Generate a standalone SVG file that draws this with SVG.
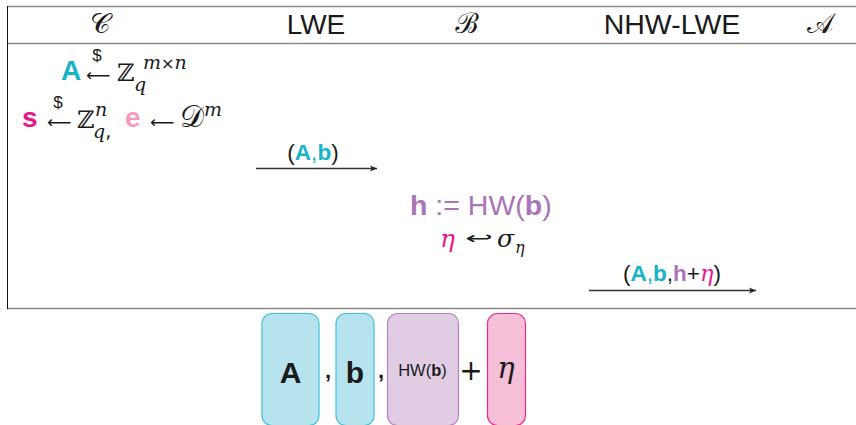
<svg xmlns="http://www.w3.org/2000/svg" width="856" height="425" viewBox="0 0 856 425">
  <defs>
    <marker id="arrowhead" viewBox="0 0 10 10" refX="9" refY="5" markerWidth="8" markerHeight="8" markerUnits="userSpaceOnUse" orient="auto">
      <path d="M0,1 L9,5 L0,9 L2.5,5 Z" fill="#222"/>
    </marker>
  </defs>
  <style>
    .sans { font-family: "Liberation Sans", Arial, sans-serif; }
    .math { font-family: "DejaVu Serif", "Liberation Serif", serif; font-style: italic; }
    .up { font-family: "DejaVu Sans", "Liberation Sans", sans-serif; font-style: normal; }
    .script { font-family: "DejaVu Serif", "Noto Sans", serif; }
    .rule { stroke: #888; stroke-width: 1.6; fill: none; }
    .cyan { fill: #17b3c9; }
    .mag { fill: #e6198a; }
    .pink { fill: #f49ac1; }
    .purp { fill: #a975b6; }
    .ink { fill: #1a1a1a; }
    .msg { stroke: #333; stroke-width: 1.3; fill: none; marker-end: url(#arrowhead); }
    .box-cyan { fill: #b7e3ef; stroke: #3cc3d6; stroke-width: 1.2; }
    .box-purp { fill: #e0cde4; stroke: #b783be; stroke-width: 1.2; }
    .box-pink { fill: #f6bfd8; stroke: #ea2b8c; stroke-width: 1.2; }
  </style>

  <!-- protocol frame -->
  <g id="frame">
    <line class="rule" x1="7" y1="6.5" x2="856" y2="6.5"/>
    <line class="rule" x1="7" y1="43.5" x2="856" y2="43.5"/>
    <line class="rule" x1="7" y1="308.5" x2="856" y2="308.5"/>
    <line x1="7.5" y1="6" x2="7.5" y2="309" stroke="#111" stroke-width="1"/>
  </g>

  <!-- column headings -->
  <g id="header">
    <text class="script ink" x="100" y="33" font-size="28" text-anchor="middle">𝒞</text>
    <text class="sans ink" x="316" y="34" font-size="28" text-anchor="middle">LWE</text>
    <text class="script ink" x="467" y="33" font-size="28" text-anchor="middle">ℬ</text>
    <text class="sans ink" x="672" y="34" font-size="28.5" text-anchor="middle">NHW-LWE</text>
    <text class="script ink" x="820" y="33" font-size="28" text-anchor="middle">𝒜</text>
  </g>

  <!-- challenger sampling -->
  <g id="challenger">
    <text class="sans cyan" x="61" y="80" font-size="28" font-weight="bold">A</text>
    <text class="sans ink" x="97" y="61" font-size="17" text-anchor="middle">$</text>
    <text class="up ink" x="86" y="81" font-size="17">⟵</text>
    <text class="script ink" x="117" y="81" font-size="24">ℤ</text>
    <text class="math ink" x="134" y="91" font-size="19">q</text>
    <text class="math ink" x="143" y="69" font-size="19">m<tspan class="up" font-size="16">×</tspan>n</text>

    <text class="sans mag" x="22" y="127" font-size="28" font-weight="bold">s</text>
    <text class="sans ink" x="58" y="108" font-size="17" text-anchor="middle">$</text>
    <text class="up ink" x="47" y="128" font-size="17">⟵</text>
    <text class="script ink" x="77" y="128" font-size="24">ℤ</text>
    <text class="math ink" x="93" y="138" font-size="19">q<tspan class="up">,</tspan></text>
    <text class="math ink" x="95" y="116" font-size="19">n</text>
    <text class="sans pink" x="125" y="127" font-size="28" font-weight="bold">e</text>
    <text class="up ink" x="150" y="128" font-size="17">⟵</text>
    <text class="script ink" x="180" y="127" font-size="30">𝒟</text>
    <text class="math ink" x="204" y="116" font-size="19">m</text>
  </g>

  <!-- reduction step -->
  <g id="reduction">
    <text class="sans purp" x="410" y="215" font-size="28.5"><tspan font-weight="bold">h</tspan> := HW(<tspan font-weight="bold">b</tspan>)</text>
    <text class="math mag" x="440" y="247" font-size="25">η</text>
    <text class="up ink" x="465" y="244" font-size="17" textLength="28" lengthAdjust="spacingAndGlyphs">↩</text>
    <text class="math ink" x="497" y="247" font-size="25">σ</text>
    <text class="math ink" x="515" y="253" font-size="16">η</text>
  </g>

  <!-- messages -->
  <g id="connectors">
    <line class="msg" x1="256" y1="168.5" x2="377" y2="168.5"/>
    <line class="msg" x1="589" y1="290.5" x2="756" y2="290.5"/>
  </g>
  <g id="msg-labels">
    <text class="sans ink" x="313" y="160" font-size="22.5" text-anchor="middle">(<tspan class="cyan" font-weight="bold">A</tspan><tspan class="cyan">,</tspan><tspan class="cyan" font-weight="bold">b</tspan>)</text>
    <text class="sans ink" x="672" y="281" font-size="22.5" text-anchor="middle">(<tspan class="cyan" font-weight="bold">A</tspan><tspan class="cyan">,</tspan><tspan class="cyan" font-weight="bold">b</tspan>,<tspan class="purp" font-weight="bold">h</tspan>+<tspan class="mag math">η</tspan>)</text>
  </g>

  <!-- output tuple -->
  <g id="box-A">
    <rect class="box-cyan" x="262" y="313.5" width="57" height="112" rx="10"/>
    <text class="sans ink" x="290.5" y="383" font-size="30" font-weight="bold" text-anchor="middle">A</text>
  </g>
  <text class="sans ink" x="328" y="378" font-size="22" font-weight="bold" text-anchor="middle">,</text>
  <g id="box-b">
    <rect class="box-cyan" x="336" y="313.5" width="38" height="112" rx="10"/>
    <text class="sans ink" x="355" y="383" font-size="30" font-weight="bold" text-anchor="middle">b</text>
  </g>
  <text class="sans ink" x="381" y="378" font-size="22" font-weight="bold" text-anchor="middle">,</text>
  <g id="box-hw">
    <rect class="box-purp" x="387.5" y="313.5" width="71" height="112" rx="10"/>
    <text class="sans ink" x="422.5" y="376" font-size="16.5" text-anchor="middle">HW(<tspan font-weight="bold">b</tspan>)</text>
  </g>
  <text class="up ink" x="471" y="380" font-size="28" text-anchor="middle">+</text>
  <g id="box-eta">
    <rect class="box-pink" x="487.5" y="313.5" width="38" height="112" rx="10"/>
    <text class="math ink" x="506" y="378" font-size="29" text-anchor="middle">η</text>
  </g>
</svg>
